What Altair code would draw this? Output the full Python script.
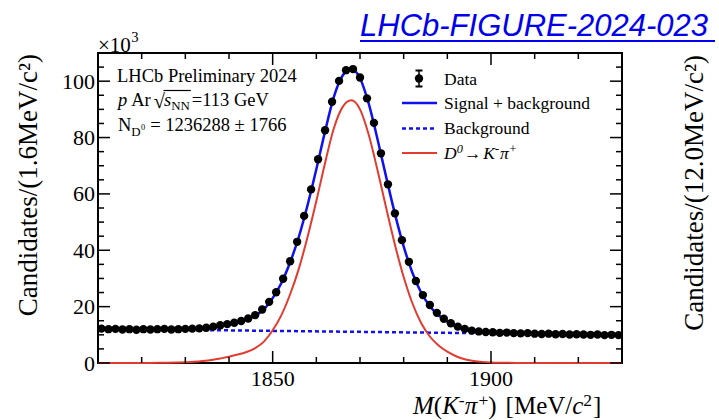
import altair as alt
import pandas as pd

FONT = "Liberation Serif"
BLUE = "#1010f0"
RED = "#e23b30"

# Canvas geometry in pixels
LEFT, TOP, PLOT_W, PLOT_H = 98, 53, 524, 310
TOTAL_W, TOTAL_H = 719, 420

# Binned candidates (bin width 1.6 MeV/c^2), counts in units of 10^3
mass = [
    1810.8, 1812.4, 1814.0, 1815.6, 1817.2, 1818.8, 1820.4, 1822.0, 1823.6, 1825.2,
    1826.8, 1828.4, 1830.0, 1831.6, 1833.2, 1834.8, 1836.4, 1838.0, 1839.6, 1841.2,
    1842.8, 1844.4, 1846.0, 1847.6, 1849.2, 1850.8, 1852.4, 1854.0, 1855.6, 1857.2,
    1858.8, 1860.4, 1862.0, 1863.6, 1865.2, 1866.8, 1868.4, 1870.0, 1871.6, 1873.2,
    1874.8, 1876.4, 1878.0, 1879.6, 1881.2, 1882.8, 1884.4, 1886.0, 1887.6, 1889.2,
    1890.8, 1892.4, 1894.0, 1895.6, 1897.2, 1898.8, 1900.4, 1902.0, 1903.6, 1905.2,
    1906.8, 1908.4, 1910.0, 1911.6, 1913.2, 1914.8, 1916.4, 1918.0, 1919.6, 1921.2,
    1922.8, 1924.4, 1926.0, 1927.6, 1929.2,
]
candidates = [
    12.2, 12.0, 12.1, 11.9, 12.0, 11.8, 12.0, 11.9, 12.0, 12.1,
    11.9, 12.0, 12.1, 12.2, 12.3, 12.5, 12.9, 13.4, 13.8, 14.3,
    14.9, 15.8, 17.0, 19.0, 21.7, 25.1, 29.9, 36.1, 43.0, 52.2,
    61.6, 72.3, 82.6, 92.7, 100.1, 103.9, 104.3, 101.3, 93.9, 85.2,
    74.4, 63.4, 53.1, 43.6, 35.9, 29.1, 24.1, 20.6, 17.8, 15.7,
    14.1, 12.9, 12.1, 11.5, 11.2, 11.0, 10.9, 10.7, 10.8, 10.6,
    10.5, 10.6, 10.4, 10.3, 10.4, 10.2, 10.3, 10.1, 10.2, 10.1,
    10.0, 10.1, 9.9, 10.0, 9.9,
]

# Fit components sampled every 2 MeV/c^2
fit_mass = list(range(1810, 1931, 2))
fit_total = [
    12.10, 12.07, 12.03, 12.00, 11.97, 11.95, 11.93, 11.93, 11.94, 11.99,
    12.05, 12.17, 12.38, 12.70, 13.21, 13.78, 14.54, 15.41, 16.77, 19.04,
    23.00, 28.37, 35.73, 44.80, 56.06, 68.73, 82.19, 94.36, 101.92, 104.29,
    101.05, 92.02, 79.48, 65.95, 52.91, 41.38, 32.04, 25.01, 20.17, 16.94,
    14.70, 13.07, 11.93, 11.35, 10.96, 10.73, 10.59, 10.51, 10.44, 10.39,
    10.35, 10.32, 10.28, 10.25, 10.21, 10.18, 10.14, 10.11, 10.07, 10.04,
    10.00,
]
fit_signal = [
    0.0, 0.0, 0.0, 0.0, 0.01, 0.02, 0.04, 0.07, 0.12, 0.2,
    0.3, 0.45, 0.7, 1.05, 1.6, 2.2, 3.0, 3.9, 5.3, 7.6,
    11.6, 17.0, 24.4, 33.5, 44.8, 57.5, 71.0, 83.2, 90.8, 93.2,
    90.0, 81.0, 68.5, 55.0, 42.0, 30.5, 21.2, 14.2, 9.4, 6.2,
    4.0, 2.4, 1.3, 0.75, 0.4, 0.2, 0.1, 0.05, 0.02, 0.0,
    0.0, 0.0, 0.0, 0.0, 0.0, 0.0, 0.0, 0.0, 0.0, 0.0,
    0.0,
]
bkg_mass = [1810, 1930]
bkg_level = [12.1, 10.0]

# Axis ticks and labels
x_major = [1850, 1900]
x_minor = [1820, 1830, 1840, 1860, 1870, 1880, 1890, 1910, 1920]
y_major = [0, 20, 40, 60, 80, 100]
y_minor = [5, 10, 15, 25, 30, 35, 45, 50, 55, 65, 70, 75, 85, 90, 95, 105]

xs = alt.Scale(domain=[1810, 1930], nice=False, zero=False)
ys = alt.Scale(domain=[0, 110], nice=False)

df_data = pd.DataFrame({"mass": mass, "candidates": candidates})
df_fit = pd.DataFrame({"m": fit_mass, "total": fit_total, "signal": fit_signal})
df_bkg = pd.DataFrame({"m": bkg_mass, "bkg": bkg_level})
ONE = pd.DataFrame({"k": [0]})

background = alt.Chart(df_bkg).mark_line(color=BLUE, strokeWidth=2.5, strokeDash=[4, 3]).encode(
    x=alt.X("m:Q", scale=xs, axis=None), y=alt.Y("bkg:Q", scale=ys, axis=None))
signal = alt.Chart(df_fit).mark_line(color=RED, strokeWidth=2, interpolate="monotone").encode(
    x=alt.X("m:Q", scale=xs, axis=None), y=alt.Y("signal:Q", scale=ys, axis=None))
total = alt.Chart(df_fit).mark_line(color=BLUE, strokeWidth=2.5, interpolate="monotone").encode(
    x=alt.X("m:Q", scale=xs, axis=None), y=alt.Y("total:Q", scale=ys, axis=None))
points = alt.Chart(df_data).mark_circle(size=70, color="black", opacity=1).encode(
    x=alt.X("mass:Q", scale=xs, axis=None), y=alt.Y("candidates:Q", scale=ys, axis=None))


def x_ticks(vals, length, side):
    y0, y1 = (PLOT_H, PLOT_H - length) if side == "bottom" else (0, length)
    return alt.Chart(pd.DataFrame({"v": vals})).mark_rule(color="black", strokeWidth=1.5).encode(
        x=alt.X("v:Q", scale=xs, axis=None), y=alt.value(y0), y2=alt.value(y1))


def y_ticks(vals, length, side):
    x0, x1 = (0, length) if side == "left" else (PLOT_W, PLOT_W - length)
    return alt.Chart(pd.DataFrame({"v": vals})).mark_rule(color="black", strokeWidth=1.5).encode(
        y=alt.Y("v:Q", scale=ys, axis=None), x=alt.value(x0), x2=alt.value(x1))


ticks = []
for side in ("bottom", "top"):
    ticks += [x_ticks(x_major, 12, side), x_ticks(x_minor, 6, side)]
for side in ("left", "right"):
    ticks += [y_ticks(y_major, 12, side), y_ticks(y_minor, 6, side)]

# Tick labels placed through the same scales
x_labels = alt.Chart(pd.DataFrame({"v": x_major})).mark_text(
    font=FONT, fontSize=22, color="black", align="center", baseline="alphabetic").encode(
    x=alt.X("v:Q", scale=xs, axis=None), y=alt.value(386 - TOP), text=alt.Text("v:Q", format="d"))
y_labels = alt.Chart(pd.DataFrame({"v": y_major})).mark_text(
    font=FONT, fontSize=22, color="black", align="right", baseline="alphabetic", dy=7.5).encode(
    y=alt.Y("v:Q", scale=ys, axis=None), x=alt.value(95 - LEFT), text=alt.Text("v:Q", format="d"))

# Approximate Times-style advance widths (per 1000 em) for laying out mixed text
REG = {" ": 250, "(": 333, ")": 333, "[": 333, "]": 333, "/": 278, ".": 250, "=": 564,
       "+": 564, "-": 333, "±": 564, "−": 564, "×": 564, "√": 549, "→": 1000, "π": 549,
       "A": 722, "C": 667, "D": 722, "G": 722, "H": 722, "K": 722, "L": 611, "M": 889,
       "N": 722, "P": 556, "S": 556, "V": 722, "a": 444, "b": 500, "c": 444, "d": 500,
       "e": 444, "g": 500, "i": 278, "k": 500, "l": 278, "m": 778, "n": 500, "o": 500,
       "p": 500, "r": 333, "s": 389, "t": 278, "u": 500, "y": 500}
ITAL = {"M": 833, "K": 667, "N": 667}


def text_width(s, size, italic):
    tot = 0
    for ch in s:
        if italic and ch in ITAL:
            tot += ITAL[ch]
        else:
            tot += REG.get(ch, 500)
    return tot * size / 1000


def P(text, style="", dx=0.0, dy=None):
    return (text, style, dx, dy)


def rich(pieces, x0, base, size, color="black", font=FONT):
    """Lay out text pieces left to right; returns layers and piece extents."""
    layers, extents = [], []
    x = x0
    for text, style, dx, dy in pieces:
        x += dx
        italic = "i" in style
        if "^" in style or "_" in style:
            fs = size * 0.7
        elif "o" in style:
            fs = size * 0.45
        elif "r" in style:
            fs = size * 1.1
        else:
            fs = size
        if dy is None:
            dy = -0.33 * size if "^" in style else (0.25 * size if "_" in style else
                                                    (0.12 * size if "r" in style else 0.0))
        layers.append(alt.Chart(ONE).mark_text(
            text=text, font=font, fontSize=fs, fontStyle="italic" if italic else "normal",
            color=color, align="left", baseline="alphabetic").encode(
            x=alt.value(x - LEFT), y=alt.value(base + dy - TOP)))
        w = text_width(text, fs, italic)
        extents.append((x, x + w))
        x += w
    return layers, extents


texts = [x_labels, y_labels]

# x10^3 multiplier above the y axis
lay, _ = rich([P("×10"), P("3", "^", 0.5, -9.5)], 98, 51.5, 21)
texts += lay

# Info block
lay, _ = rich([P("LHCb Preliminary 2024")], 117, 82, 18.5)
texts += lay
lay, ext = rich([P("p", "i"), P("Ar", "", 4), P("√", "r", 3), P("s", "i", -1),
                 P("NN", "_"), P("=113 GeV", "", 2)], 118, 105.5, 18.5)
texts += lay
texts.append(alt.Chart(ONE).mark_rule(color="black", strokeWidth=1.2).encode(
    x=alt.value(ext[2][1] - 1.5 - LEFT), x2=alt.value(ext[4][1] + 1 - LEFT),
    y=alt.value(90.5 - TOP)))
lay, _ = rich([P("N"), P("D", "_"), P("0", "o", 0.3, -1.0), P("= 1236288 ± 1766", "", 5)],
              118, 131, 18.5)
texts += lay

# Legend
LX0, LX1, LT = 402, 437, 444
legend = [
    alt.Chart(ONE).mark_rule(color="black", strokeWidth=1.5).encode(
        x=alt.value(419 - LEFT), y=alt.value(70 - TOP), y2=alt.value(87 - TOP)),
    alt.Chart(ONE).mark_rule(color="black", strokeWidth=2).encode(
        x=alt.value(415.5 - LEFT), x2=alt.value(422.5 - LEFT), y=alt.value(70.5 - TOP)),
    alt.Chart(ONE).mark_rule(color="black", strokeWidth=2).encode(
        x=alt.value(415.5 - LEFT), x2=alt.value(422.5 - LEFT), y=alt.value(86.5 - TOP)),
    alt.Chart(ONE).mark_point(shape="circle", filled=True, size=70, color="black", opacity=1).encode(
        x=alt.value(419 - LEFT), y=alt.value(78.5 - TOP)),
    alt.Chart(ONE).mark_rule(color=BLUE, strokeWidth=2.5).encode(
        x=alt.value(LX0 - LEFT), x2=alt.value(LX1 - LEFT), y=alt.value(103 - TOP)),
    alt.Chart(ONE).mark_rule(color=BLUE, strokeWidth=2.5, strokeDash=[4, 3]).encode(
        x=alt.value(LX0 - LEFT), x2=alt.value(LX1 - LEFT), y=alt.value(128.5 - TOP)),
    alt.Chart(ONE).mark_rule(color=RED, strokeWidth=2).encode(
        x=alt.value(LX0 - LEFT), x2=alt.value(LX1 - LEFT), y=alt.value(153 - TOP)),
]
for label, base in (("Data", 84.5), ("Signal + background", 108.5), ("Background", 133.5)):
    lay, _ = rich([P(label)], LT, base, 17.5)
    legend += lay
lay, _ = rich([P("D", "i"), P("0", "i^"), P("→", "", 1), P("K", "i", 2), P("-", "^"),
               P("π", "i", 1), P("+", "^")], LT, 158.5, 17.5)
legend += lay

# x-axis title
lay, _ = rich([P("M", "i"), P("("), P("K", "i"), P("-", "^"), P("π", "i"), P("+", "^"),
               P(")"), P("[MeV/", "", 9), P("c", "i"), P("2", "^"), P("]", "", 1)],
              413, 414, 25)
texts += lay

# y-axis titles (this panel and the neighbouring one)
texts.append(alt.Chart(ONE).mark_text(
    text="Candidates/(1.6MeV/c²)", font=FONT, fontSize=27, angle=270, align="right",
    baseline="alphabetic", color="black").encode(x=alt.value(37 - LEFT), y=alt.value(54 - TOP)))
texts.append(alt.Chart(ONE).mark_text(
    text="Candidates/(12.0MeV/c²)", font=FONT, fontSize=27, angle=270, align="right",
    baseline="alphabetic", color="black").encode(x=alt.value(703 - LEFT), y=alt.value(55 - TOP)))

# Figure reference link
texts.append(alt.Chart(ONE).mark_text(
    text="LHCb-FIGURE-2024-023", font="Liberation Sans", fontSize=31, fontStyle="italic",
    align="left", baseline="alphabetic", color="#0000ee").encode(
    x=alt.value(360 - LEFT), y=alt.value(36 - TOP)))
texts.append(alt.Chart(ONE).mark_rule(color="#0000ee", strokeWidth=2).encode(
    x=alt.value(360 - LEFT), x2=alt.value(715 - LEFT), y=alt.value(41 - TOP)))

chart = alt.layer(background, signal, total, points, *ticks, *legend, *texts).properties(
    width=PLOT_W, height=PLOT_H,
    padding={"left": LEFT, "top": TOP, "right": TOTAL_W - LEFT - PLOT_W,
             "bottom": TOTAL_H - TOP - PLOT_H},
    autosize=alt.AutoSizeParams(type="none"),
    background="white",
).configure_view(stroke="black", strokeWidth=2)

chart.save("out.html", embed_options={"renderer": "svg", "actions": False})
